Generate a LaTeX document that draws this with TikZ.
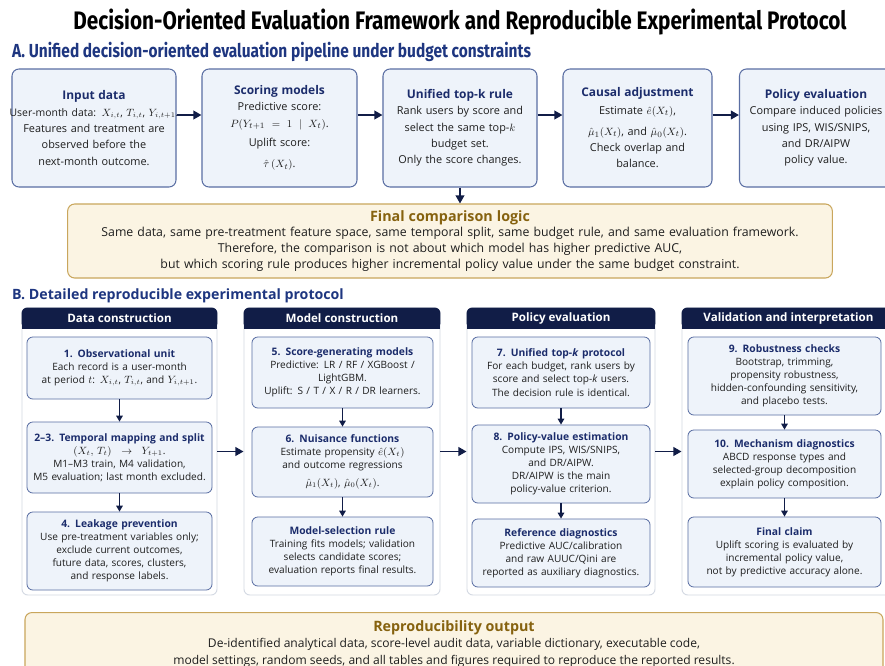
\documentclass[tikz,border=0pt]{standalone}
\usepackage{amsmath}
\usepackage[no-math]{fontspec}
\setmainfont{Open Sans}
\newfontfamily\condfont[FakeStretch=0.82]{Fira Sans}
\usetikzlibrary{positioning,arrows.meta}
\definecolor{navy}{HTML}{111D47}
\definecolor{titleblue}{HTML}{1B2C6B}
\definecolor{secblue}{HTML}{1E3680}
\definecolor{boxfill}{HTML}{EEF3FA}
\definecolor{boxline}{HTML}{5A6EA3}
\definecolor{goldfill}{HTML}{FBF4E3}
\definecolor{goldline}{HTML}{C9A65C}
\definecolor{goldtext}{HTML}{86620F}
\definecolor{panelline}{HTML}{D3D8E2}
\definecolor{bodytext}{HTML}{1E1E1E}
\newcommand\hdtop[1]{{\fontsize{10.2}{14}\selectfont\bfseries\color{titleblue}#1}}
\newcommand\hdin[1]{{\fontsize{8.8}{11.4}\selectfont\bfseries\color{titleblue}#1}}
\newcommand\hdgold[1]{{\fontsize{12.2}{16}\selectfont\bfseries\color{goldtext}#1}}
\tikzset{
  topbox/.style={rectangle, rounded corners=6pt, draw=boxline, fill=boxfill, line width=0.9pt, align=center, minimum height=3.54cm, inner sep=2pt, text=bodytext, font=\fontsize{9.3}{13.9}\selectfont},
  inbox/.style={rectangle, rounded corners=5pt, draw=boxline, fill=boxfill, line width=0.7pt, align=center, inner sep=2pt, text=bodytext, font=\fontsize{8.6}{11.2}\selectfont},
  colA/.style={inbox, text width=5.41cm},
  colB/.style={inbox, text width=5.29cm},
  colC/.style={inbox, text width=5.2cm},
  colD/.style={inbox, text width=5.65cm},
  goldbox/.style={rectangle, rounded corners=6pt, draw=goldline, fill=goldfill, line width=0.9pt, align=center, inner sep=2pt, text=bodytext},
  panel/.style={rectangle, rounded corners=5pt, draw=panelline, fill=white, line width=0.8pt, minimum height=8.61cm, inner sep=0pt},
  arr/.style={-{Triangle[length=7pt,width=7.5pt]}, line width=1.5pt, draw=navy},
  sarr/.style={-{Triangle[length=5pt,width=5.5pt]}, line width=1.1pt, draw=navy}
}

\begin{document}
\begin{tikzpicture}[x=0.03cm,y=-0.03cm]
\useasboundingbox[fill=white] (0,0) rectangle (885,666);

\node (title) at (460,22) {\condfont\fontsize{21.6}{26}\selectfont\bfseries Decision-Oriented Evaluation Framework and Reproducible Experimental Protocol};
\node[anchor=west, text=secblue, inner sep=0pt] (secA) at (12,52) {\condfont\fontsize{16.1}{18}\selectfont\bfseries A. Unified decision-oriented evaluation pipeline under budget constraints};

\node[topbox, text width=4.78cm] (ind) at (94,128) {\hdtop{Input data}\\\makebox[\linewidth][c]{\fontsize{8.9}{13.9}\selectfont User-month data: $X_{i,t}$, $T_{i,t}$, $Y_{i,t+1}$.}\\Features and treatment are\\observed before the\\next-month outcome.};
\node[topbox, text width=4.51cm] (scm) at (279.5,128) {\hdtop{Scoring models}\\Predictive score:\\$P(Y_{t+1}=1\mid X_t)$.\\[3pt]Uplift score:\\[4pt]$\hat{\tau}\,(X_t)$.};
\node[topbox, text width=4.48cm] (tkr) at (460,128) {\hdtop{Unified top-k rule}\\Rank users by score and\\select the same top-$k$\\budget set.\\Only the score changes.};
\node[topbox, text width=4.33cm] (cau) at (637.5,128) {\hdtop{Causal adjustment}\\[1pt]Estimate $\hat{e}(X_t)$,\\[4pt]$\hat{\mu}_1(X_t)$, and $\hat{\mu}_0(X_t)$.\\Check overlap and\\balance.};
\node[topbox, text width=4.45cm] (pol) at (816,128) {\hdtop{Policy evaluation}\\Compare induced policies\\using IPS, WIS/SNIPS,\\and DR/AIPW\\policy value.};
\foreach \a/\b in {ind/scm, scm/tkr, tkr/cau, cau/pol}
  \draw[arr] ([yshift=0.39cm]\a.east) -- ([yshift=0.39cm]\b.west);

\node[goldbox, text width=22.8cm, minimum height=2.22cm, font=\fontsize{10.5}{13.6}\selectfont] (fin) at (450,241) {\hdgold{Final comparison logic}\\Same data, same pre-treatment feature space, same temporal split, same budget rule, and same evaluation framework.\\Therefore, the comparison is not about which model has higher predictive AUC,\\but which scoring rule produces higher incremental policy value under the same budget constraint.};
\draw[arr] (tkr.south) -- (tkr.south |- fin.north);

\node[anchor=west, text=secblue, inner sep=0pt] (secB) at (12,296) {\fontsize{12.1}{14}\selectfont\bfseries B. Detailed reproducible experimental protocol};

\foreach \n/\cx/\w/\t in {dc/119.5/5.85/Data construction, mc/342/5.88/Model construction, pe/561/5.64/Policy evaluation, vi/788.5/6.39/Validation and interpretation}{
  \node[panel, minimum width=\w cm] (\n) at (\cx,451.5) {};
  \fill[navy, rounded corners=5pt] (\n.north west) rectangle ([yshift=-0.63cm]\n.north east);
  \fill[navy] ([yshift=-0.3cm]\n.north west) rectangle ([yshift=-0.63cm]\n.north east);
  \node[text=white, font=\fontsize{9.9}{12}\selectfont\bfseries] (\n-h) at ([yshift=-0.315cm]\n.north) {\t};
}

\node[colA, minimum height=1.86cm] (obs) at (119.5,368) {\hdin{1. Observational unit}\\Each record is a user-month\\at period $t$: $X_{i,t}$, $T_{i,t}$, and $Y_{i,t+1}$.};
\node[colA, minimum height=2.13cm] (tmp) at (119.5,457.5) {\hdin{2--3. Temporal mapping and split}\\$(X_t,\,T_t)\rightarrow Y_{t+1}$.\\M1--M3 train, M4 validation,\\M5 evaluation; last month excluded.};
\node[colA, minimum height=2.34cm] (leak) at (119.5,551) {\hdin{4. Leakage prevention}\\Use pre-treatment variables only;\\exclude current outcomes,\\future data, scores, clusters,\\and response labels.};

\node[colB, minimum height=2.13cm] (sgm) at (342.5,372.5) {\hdin{5. Score-generating models}\\Predictive: LR / RF / XGBoost /\\LightGBM.\\Uplift: S / T / X / R / DR learners.};
\node[colB, minimum height=2.1cm] (nui) at (342.5,462) {\hdin{6. Nuisance functions}\\Estimate propensity $\hat{e}(X_t)$\\and outcome regressions\\[4pt]$\hat{\mu}_1(X_t)$, $\hat{\mu}_0(X_t)$.};
\node[colB, minimum height=2.07cm] (msr) at (342.5,551.5) {\hdin{Model-selection rule}\\Training fits models; validation\\selects candidate scores;\\evaluation reports final results.};

\node[colC, minimum height=2.13cm] (utk) at (561,372.5) {\hdin{7. Unified top-\textit{k} protocol}\\For each budget, rank users by\\score and select top-\textit{k} users.\\The decision rule is identical.};
\node[colC, minimum height=2.34cm] (pve) at (561,464) {\hdin{8. Policy-value estimation}\\Compute IPS, WIS/SNIPS,\\and DR/AIPW.\\DR/AIPW is the main\\policy-value criterion.};
\node[colC, minimum height=2.04cm] (ref) at (561,553) {\hdin{Reference diagnostics}\\Predictive AUC/calibration\\and raw AUUC/Qini are\\reported as auxiliary diagnostics.};

\node[colD, minimum height=2.34cm] (rob) at (784.5,376) {\hdin{9. Robustness checks}\\Bootstrap, trimming,\\propensity robustness,\\hidden-confounding sensitivity,\\and placebo tests.};
\node[colD, minimum height=2.04cm] (mech) at (784.5,464) {\hdin{10. Mechanism diagnostics}\\ABCD response types and\\selected-group decomposition\\explain policy composition.};
\node[colD, minimum height=2.1cm] (fcl) at (784.5,552) {\hdin{Final claim}\\Uplift scoring is evaluated by\\incremental policy value,\\not by predictive accuracy alone.};

\foreach \a/\b in {obs/tmp, tmp/leak, sgm/nui, nui/msr, utk/pve, pve/ref, rob/mech, mech/fcl}
  \draw[sarr] (\a) -- (\b);
\foreach \a/\b in {dc/mc, mc/pe, pe/vi}
  \draw[arr] (\a) -- (\b);

\node[goldbox, minimum width=25.74cm, minimum height=2.4cm, anchor=north] (rep) at (454,612) {};
\node[anchor=north, align=center, text=bodytext, font=\fontsize{10.3}{14}\selectfont] (rep-t) at ([yshift=-0.13cm]rep.north) {\hdgold{Reproducibility output}\\De-identified analytical data, score-level audit data, variable dictionary, executable code,\\model settings, random seeds, and all tables and figures required to reproduce the reported results.};
\end{tikzpicture}
\end{document}
